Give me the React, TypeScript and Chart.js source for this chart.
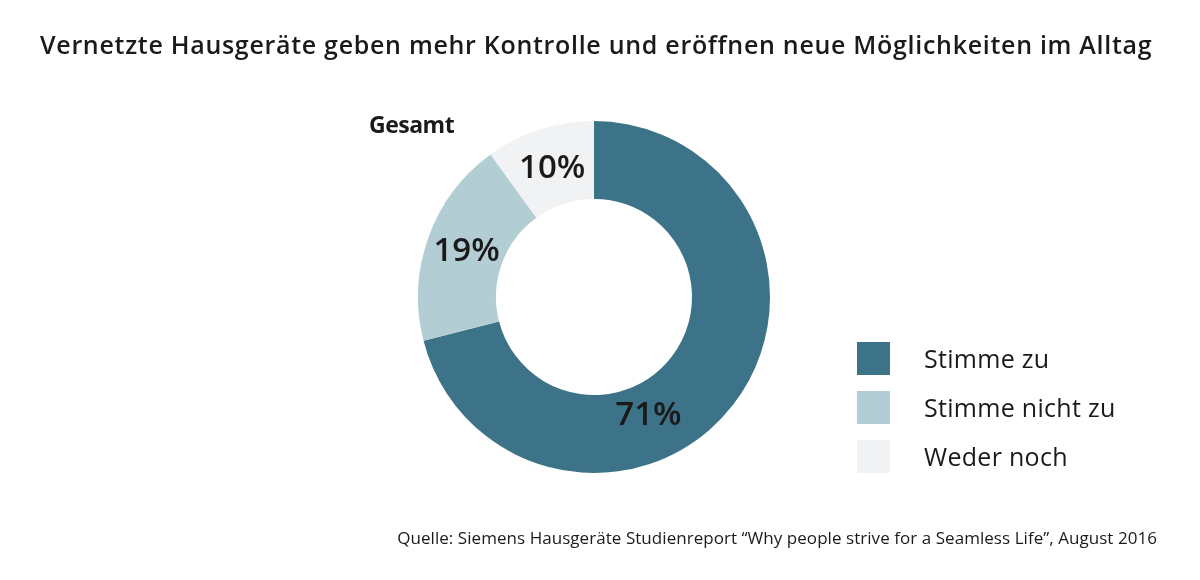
import React, { useEffect, useRef } from "react";
import { Chart, registerables } from "chart.js";

Chart.register(...registerables);

const title = "Vernetzte Hausgeräte geben mehr Kontrolle und eröffnen neue Möglichkeiten im Alltag";
const groupLabel = "Gesamt";
const categories = ["Stimme zu", "Stimme nicht zu", "Weder noch"];
const values = [71, 19, 10];
const colors = ["#3d7389", "#b3cdd5", "#f1f2f4"];
const source = "Quelle: Siemens Hausgeräte Studienreport “Why people strive for a Seamless Life”, August 2016";

const labelAlong = [0.608, 0.5, 0.5];
const labelRadial = [0.42, 0.48, 0.48];

const FONT = "'Open Sans', 'Noto Sans', sans-serif";

const labelPlugin = {
  id: "pctLabels",
  afterDatasetsDraw(chart: any) {
    const ctx = chart.ctx;
    const meta = chart.getDatasetMeta(0);
    ctx.save();
    ctx.font = `600 33px ${FONT}`;
    ctx.fillStyle = "#1a1a1a";
    ctx.textAlign = "center";
    ctx.textBaseline = "middle";
    meta.data.forEach((arc: any, i: number) => {
      const p = arc.getProps(["x", "y", "startAngle", "endAngle", "innerRadius", "outerRadius"], true);
      const a = p.startAngle + (p.endAngle - p.startAngle) * labelAlong[i];
      const r = p.innerRadius + (p.outerRadius - p.innerRadius) * labelRadial[i];
      ctx.fillText(values[i] + "%", p.x + Math.cos(a) * r, p.y + Math.sin(a) * r);
    });
    ctx.restore();
  },
};

export default function App() {
  const ref = useRef<HTMLCanvasElement>(null);
  useEffect(() => {
    const chart = new Chart(ref.current!, {
      type: "doughnut",
      data: {
        labels: categories,
        datasets: [{ data: values, backgroundColor: colors, borderWidth: 0 }],
      },
      options: {
        animation: false,
        responsive: false,
        cutout: "55.7%",
        layout: { padding: { left: 418, right: 430, top: 121, bottom: 107 } },
        plugins: { legend: { display: false }, tooltip: { enabled: false } },
      },
      plugins: [labelPlugin],
    });
    return () => chart.destroy();
  }, []);

  const abs: React.CSSProperties = { position: "absolute", whiteSpace: "nowrap", color: "#1a1a1a", fontFamily: FONT };
  return (
    <div style={{ position: "fixed", left: 0, top: 0, width: 1200, height: 580, background: "#fff", overflow: "hidden" }}>
      <canvas ref={ref} width={1200} height={580} style={{ position: "absolute", left: 0, top: 0 }} />
      <div style={{ ...abs, left: 40, top: 26, fontSize: 25, fontWeight: 600, lineHeight: "36px", letterSpacing: 0.7 }}>{title}</div>
      <div style={{ ...abs, left: 369, top: 109, fontSize: 23, fontWeight: 700, lineHeight: "30px", letterSpacing: -0.5 }}>{groupLabel}</div>
      {categories.map((c, i) => (
        <div key={c} style={{ ...abs, left: 857, top: 342 + i * 49, height: 33, display: "flex", alignItems: "center" }}>
          <div style={{ width: 33, height: 33, background: colors[i] }} />
          <div style={{ marginLeft: 34, fontSize: 25, lineHeight: "33px", letterSpacing: 0.3 }}>{c}</div>
        </div>
      ))}
      <div style={{ ...abs, right: 43, top: 526, fontSize: 17, lineHeight: "24px", letterSpacing: 0.05 }}>{source}</div>
    </div>
  );
}
